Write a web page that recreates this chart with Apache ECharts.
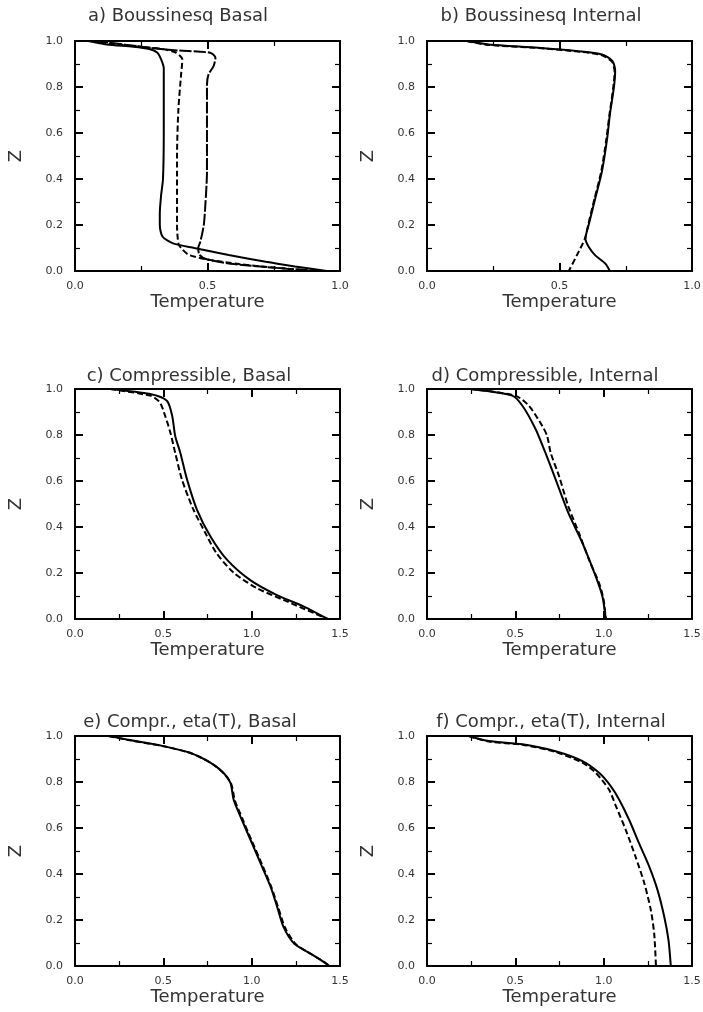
<!DOCTYPE html>
<html>
<head>
<meta charset="utf-8">
<script src="https://cdn.jsdelivr.net/npm/echarts@6/dist/echarts.min.js"></script>
<style>
html,body{margin:0;padding:0;background:#fff;}
#main{width:703px;height:1012px;}
</style>
</head>
<body>
<div id="main"></div>
<script>
// panel titles
var titles = ['a) Boussinesq Basal', 'b) Boussinesq Internal',
              'c) Compressible, Basal', 'd) Compressible, Internal',
              'e) Compr., eta(T), Basal', 'f) Compr., eta(T), Internal'];
var xMaxes = [1.0, 1.0, 1.5, 1.5, 1.5, 1.5];

// [Temperature, Z]
var aSolid = [[0.05,1.0],[0.12,0.985],[0.22,0.975],[0.28,0.965],[0.31,0.95],[0.325,0.92],[0.335,0.88],[0.335,0.6],[0.332,0.4],[0.325,0.33],[0.32,0.25],[0.32,0.2],[0.33,0.15],[0.37,0.12],[0.45,0.1],[0.58,0.07],[0.72,0.04],[0.83,0.02],[0.95,0.0]];
var aDash = [[0.06,1.0],[0.2,0.98],[0.33,0.965],[0.38,0.95],[0.405,0.92],[0.4,0.85],[0.39,0.7],[0.385,0.5],[0.385,0.2],[0.39,0.12],[0.4,0.1],[0.43,0.07],[0.5,0.05],[0.62,0.03],[0.75,0.015],[0.9,0.0]];
var aDot = [[0.08,1.0],[0.28,0.971],[0.385,0.959],[0.51,0.949],[0.53,0.927],[0.523,0.891],[0.504,0.855],[0.498,0.81],[0.498,0.43],[0.492,0.29],[0.486,0.2],[0.473,0.127],[0.465,0.1],[0.47,0.07],[0.5,0.05],[0.6,0.03],[0.8,0.01],[0.93,0.0]];

var bSolid = [[0.15,1.0],[0.233,0.985],[0.42,0.971],[0.57,0.956],[0.66,0.942],[0.70,0.913],[0.71,0.869],[0.705,0.796],[0.69,0.68],[0.68,0.578],[0.66,0.432],[0.635,0.316],[0.61,0.2],[0.598,0.141],[0.61,0.105],[0.635,0.068],[0.673,0.032],[0.69,0.0]];
var bDash = [[0.15,1.0],[0.23,0.983],[0.41,0.97],[0.56,0.955],[0.655,0.94],[0.698,0.91],[0.708,0.865],[0.702,0.79],[0.688,0.675],[0.677,0.575],[0.657,0.43],[0.632,0.314],[0.608,0.2],[0.596,0.141],[0.572,0.083],[0.535,0.0]];

var cSolid = [[0.2,1.0],[0.425,0.978],[0.52,0.949],[0.55,0.884],[0.567,0.796],[0.596,0.723],[0.634,0.607],[0.69,0.476],[0.766,0.36],[0.86,0.258],[0.99,0.17],[1.14,0.105],[1.296,0.054],[1.43,0.0]];
var cDash = [[0.2,1.0],[0.43,0.97],[0.48,0.942],[0.51,0.884],[0.54,0.81],[0.567,0.723],[0.605,0.607],[0.67,0.476],[0.738,0.374],[0.80,0.287],[0.9,0.2],[1.03,0.134],[1.18,0.083],[1.43,0.0]];

var dSolid = [[0.246,1.0],[0.482,0.971],[0.54,0.927],[0.615,0.825],[0.67,0.723],[0.728,0.607],[0.80,0.461],[0.88,0.33],[0.955,0.185],[0.993,0.098],[1.012,0.0]];
var dDash = [[0.246,1.0],[0.50,0.971],[0.577,0.927],[0.652,0.84],[0.68,0.796],[0.70,0.723],[0.747,0.622],[0.80,0.49],[0.86,0.374],[0.917,0.258],[0.974,0.156],[1.0,0.083],[1.012,0.0]];

var eSolid = [[0.19,1.0],[0.293,0.985],[0.5,0.956],[0.65,0.927],[0.766,0.884],[0.84,0.84],[0.88,0.796],[0.898,0.723],[0.936,0.651],[0.993,0.549],[1.05,0.447],[1.107,0.345],[1.144,0.258],[1.18,0.17],[1.24,0.098],[1.333,0.054],[1.41,0.017],[1.44,0.0]];
var eDash = [[0.19,1.0],[0.3,0.983],[0.51,0.954],[0.66,0.924],[0.775,0.88],[0.845,0.835],[0.885,0.79],[0.905,0.72],[0.945,0.645],[1.0,0.545],[1.058,0.443],[1.112,0.342],[1.15,0.255],[1.19,0.165],[1.25,0.095],[1.34,0.05],[1.415,0.015],[1.44,0.0]];

var fSolid = [[0.236,1.0],[0.35,0.978],[0.54,0.964],[0.728,0.934],[0.88,0.891],[0.974,0.84],[1.04,0.782],[1.088,0.723],[1.144,0.636],[1.2,0.534],[1.258,0.432],[1.305,0.33],[1.343,0.214],[1.367,0.112],[1.38,0.0]];
var fDash = [[0.236,1.0],[0.35,0.976],[0.54,0.962],[0.72,0.932],[0.88,0.884],[0.955,0.84],[1.03,0.767],[1.07,0.694],[1.125,0.592],[1.18,0.476],[1.23,0.36],[1.267,0.243],[1.286,0.141],[1.296,0.0]];

var panelLines = [
    [[aSolid,'solid'],[aDash,[6,3]],[aDot,[12,2]]],
    [[bSolid,'solid'],[bDash,[6,3]]],
    [[cSolid,'solid'],[cDash,[6,3]]],
    [[dSolid,'solid'],[dDash,[6,3]]],
    [[eSolid,'solid'],[eDash,[6,3]]],
    [[fSolid,'solid'],[fDash,[6,3]]]
];

var FONT = 'DejaVu Sans, Liberation Sans, sans-serif';
var TXT = '#333';
var colLeft = [75, 427];
var rowTop = [41, 389, 736];
var plotW = 265, plotH = 230;
// title centres (x) and middle line (y)
var titleX = [178, 541, 189, 545, 190, 551];
var titleY = [18, 18, 378, 378, 724, 724];

function tickBits(show, margin){
    return {
        axisLine:{onZero:false, lineStyle:{color:'#000', width:2}},
        axisTick:{show:true, inside:true, length:8, lineStyle:{color:'#000', width:2}},
        minorTick:{show:true, splitNumber:2, length:5, lineStyle:{color:'#000', width:1.2}},
        splitLine:{show:false},
        minorSplitLine:{show:false},
        axisLabel:{show:show, margin:margin || 10, color:TXT, fontSize:11, fontFamily:FONT,
            formatter:function(v){ return v.toFixed(1); }}
    };
}

function buildChart(){
    var myChart = echarts.init(document.getElementById('main'));
    var grids = [], xAxes = [], yAxes = [], series = [], titleList = [];
    for(var i = 0; i < 6; i++){
        var gLeft = colLeft[i % 2], gTop = rowTop[Math.floor(i / 2)];
        grids.push({left:gLeft, top:gTop, width:plotW, height:plotH, outerBoundsMode:'none'});
        titleList.push({
            text:titles[i], left:titleX[i], top:titleY[i] - 11, textAlign:'center', padding:0,
            textStyle:{fontSize:18, fontWeight:'normal', color:TXT, fontFamily:FONT}
        });
        xAxes.push(Object.assign({type:'value', gridIndex:i, position:'bottom', min:0, max:xMaxes[i], interval:0.5,
            name:'Temperature', nameLocation:'middle', nameGap:20,
            nameTextStyle:{fontSize:18, color:TXT, fontFamily:FONT}}, tickBits(true, 10)));
        xAxes.push(Object.assign({type:'value', gridIndex:i, position:'top', min:0, max:xMaxes[i], interval:0.5}, tickBits(false)));
        yAxes.push(Object.assign({type:'value', gridIndex:i, position:'left', min:0, max:1, interval:0.2,
            name:'Z', nameLocation:'middle', nameGap:50,
            nameTextStyle:{fontSize:18, color:TXT, fontFamily:FONT}}, tickBits(true, 12)));
        yAxes.push(Object.assign({type:'value', gridIndex:i, position:'right', min:0, max:1, interval:0.2}, tickBits(false)));

        panelLines[i].forEach(function(l){
            series.push({
                type:'line', xAxisIndex:2 * i, yAxisIndex:2 * i,
                data:l[0], symbol:'none', smooth:0.25, silent:true,
                lineStyle:{color:'#000', width:2, type:l[1]}
            });
        });
    }

    var option = {
        backgroundColor:'#fff',
        animation:false,
        title:titleList,
        grid:grids,
        xAxis:xAxes,
        yAxis:yAxes,
        series:series
    };
    myChart.setOption(option, true);
}
buildChart();
</script>
</body>
</html>
